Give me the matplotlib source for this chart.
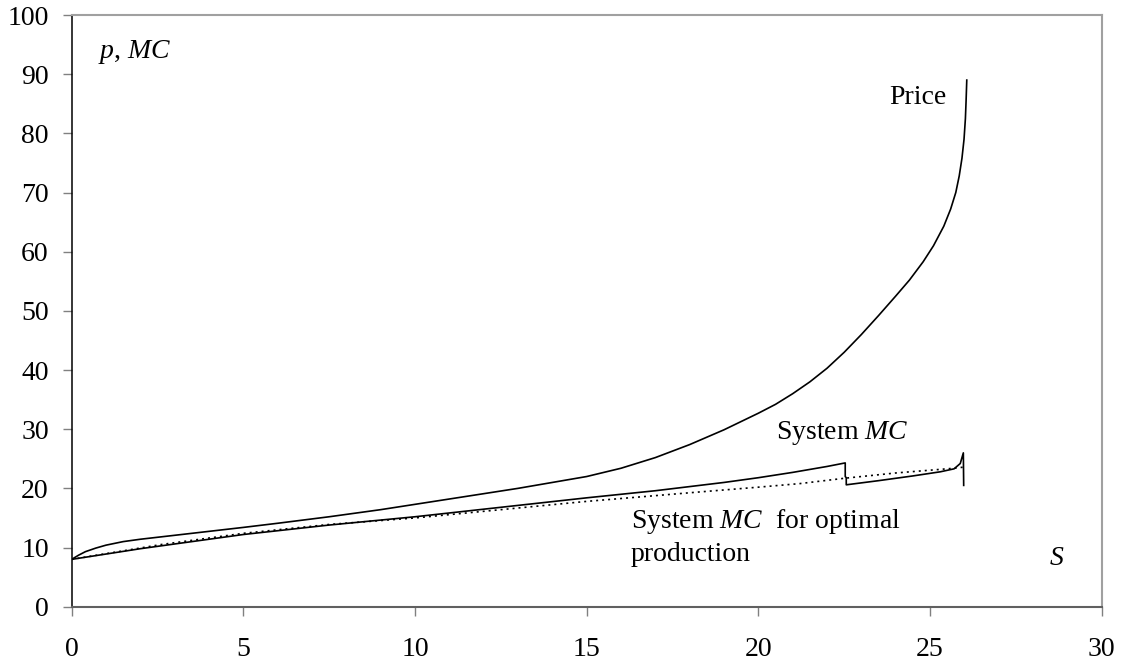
import matplotlib
matplotlib.use("Agg")
import matplotlib.pyplot as plt

plt.rcParams['font.family'] = ['Liberation Serif', 'DejaVu Serif']
plt.rcParams['mathtext.fontset'] = 'custom'
plt.rcParams['mathtext.rm'] = 'Liberation Serif'
plt.rcParams['mathtext.it'] = 'Liberation Serif:italic'

# price path over cumulative output S
price_s = [0, 0.2, 0.4, 0.7, 1.0, 1.5, 2.0, 2.6, 3.5, 5, 6, 7.5, 9, 10, 11, 12, 13,
           14, 15, 16, 17, 18, 19, 20, 20.5, 21, 21.5, 22, 22.5, 23, 23.5, 24,
           24.4, 24.8, 25.1, 25.4, 25.6, 25.75, 25.85, 25.93, 25.99, 26.03, 26.05,
           26.07]
price_p = [8, 8.7, 9.3, 9.9, 10.4, 11.0, 11.4, 11.8, 12.4, 13.4, 14.1, 15.2, 16.4,
           17.3, 18.2, 19.1, 20.0, 21.0, 22.0, 23.4, 25.2, 27.4, 29.9, 32.7, 34.2,
           36.0, 38.0, 40.3, 43.0, 46.0, 49.2, 52.5, 55.2, 58.3, 61.0, 64.3, 67.2,
           70.0, 72.8, 75.8, 79.0, 82.5, 85.5, 89.0]

# system marginal cost, with the two drops
mc_s = [0, 1, 2, 3, 5, 7.5, 10, 12.5, 15, 16, 17, 18, 19, 20, 21, 22, 22.53,
        22.53, 22.56, 22.56, 23.5, 24.5, 25.3, 25.7, 25.88, 25.97, 25.98]
mc_p = [8, 8.9, 9.8, 10.6, 12.2, 13.8, 15.2, 16.8, 18.4, 19.0, 19.6, 20.3, 21.0,
        21.8, 22.7, 23.7, 24.3, 22.0, 21.8, 20.6, 21.3, 22.1, 22.8, 23.3, 24.2,
        26.0, 20.5]

# system marginal cost for optimal production
opt_s = [0, 2.6, 5, 7.5, 10, 12.5, 15, 18.3, 20, 21.2, 22.5, 24.0, 25.7, 26.0]
opt_p = [8, 10.5, 12.4, 13.9, 15.0, 16.4, 17.8, 19.4, 20.2, 20.8, 21.7, 22.6,
         23.4, 23.6]

fig = plt.figure(figsize=(11.25, 6.64), dpi=100)
ax = fig.add_axes([0.0637, 0.0863, 0.9156, 0.8911])

ax.plot(price_s, price_p, color='black', lw=1.2)
ax.plot(mc_s, mc_p, color='black', lw=1.2)
ax.plot(opt_s, opt_p, color='black', lw=1.2, linestyle=(0, (1.2, 2.4)))

ax.set_xlim(0, 30)
ax.set_ylim(0, 100)
ax.set_xticks(range(0, 31, 5))
ax.set_yticks(range(0, 101, 10))

ax.spines['left'].set_color('black')
ax.spines['left'].set_linewidth(1.1)
ax.spines['bottom'].set_color('#606060')
ax.spines['bottom'].set_linewidth(1.5)
for side in ('top', 'right'):
    ax.spines[side].set_color('#a0a0a0')
    ax.spines[side].set_linewidth(1.5)

ax.tick_params(axis='both', direction='out', length=6.5, width=1.0,
               color='#808080', labelsize=20, labelcolor='black')
ax.tick_params(axis='y', pad=10)
ax.tick_params(axis='x', pad=15)

fs = 20
ax.text(0.77, 93.7, '$p$, $MC$', fontsize=fs, va='center', ha='left')
ax.text(25.47, 86.1, 'Price', fontsize=fs, va='center', ha='right')
ax.text(20.5, 29.3, 'System $MC$', fontsize=fs, va='center', ha='left')
ax.text(16.28, 11.8, 'System $MC$  for optimal\nproduction', fontsize=fs,
        va='center', ha='left', linespacing=1.3)
ax.text(28.7, 8.2, '$S$', fontsize=fs, va='center', ha='center')

fig.savefig('out.png', dpi=100)
